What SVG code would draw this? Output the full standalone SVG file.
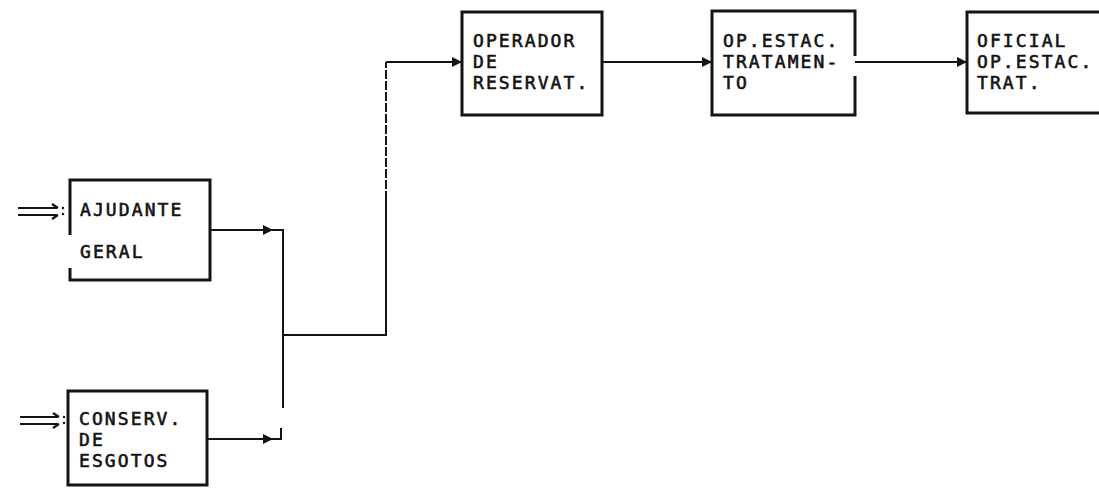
<svg xmlns="http://www.w3.org/2000/svg" width="1099" height="489" viewBox="0 0 1099 489">
<defs>
<style>
.box{fill:none;stroke:#141414;stroke-width:3}
.edge{fill:none;stroke:#141414;stroke-width:3}
.ln{fill:none;stroke:#141414;stroke-width:2}
.in{fill:none;stroke:#141414;stroke-width:2.2}
.t{font-family:"DejaVu Sans Mono","Liberation Mono",monospace;font-size:18px;letter-spacing:2.1px;fill:#141414;stroke:#141414;stroke-width:0.6}
</style>
<marker id="ah" viewBox="0 0 10 10" refX="10" refY="5" markerWidth="11" markerHeight="10" markerUnits="userSpaceOnUse" orient="auto">
<path d="M0,0 L10,5 L0,10 Z" fill="#141414"/>
</marker>
</defs>
<rect width="1099" height="489" fill="#fff"/>
<g id="connectors">
<path class="in" d="M18,208 H57 M18,215 H57 M52,204 L58,208 M52,219 L58,215"/>
<circle cx="63" cy="208" r="1.2" fill="#141414"/><circle cx="63" cy="214" r="1.2" fill="#141414"/>
<path class="in" d="M20,417 H58 M20,424 H58 M53,413 L59,417 M53,428 L59,424"/>
<circle cx="64" cy="417" r="1.2" fill="#141414"/><circle cx="64" cy="423" r="1.2" fill="#141414"/>
<path class="ln" d="M210,230 H273" marker-end="url(#ah)"/>
<path class="ln" d="M273,230 H283 V408"/>
<path class="ln" d="M207,439 H273" marker-end="url(#ah)"/>
<path class="ln" d="M273,439 H281 V428"/>
<path class="ln" d="M283,335 H386 V200"/>
<path class="ln" d="M386,200 V62" stroke-dasharray="9 2"/>
<path class="ln" d="M386,62 H462" marker-end="url(#ah)"/>
<path class="ln" d="M602,62 H712" marker-end="url(#ah)"/>
<path class="ln" d="M855,62 H967" marker-end="url(#ah)"/>
</g>
<g id="ajudante">
<path class="edge" d="M70,235 V180 H210 V280 H70 V268"/>
<text class="t" x="80" y="216">AJUDANTE</text>
<text class="t" x="80" y="258">GERAL</text>
</g>
<g id="conserv">
<rect class="box" x="68" y="391" width="139" height="94"/>
<text class="t" x="79" y="425">CONSERV.</text>
<text class="t" x="79" y="446">DE</text>
<text class="t" x="79" y="467">ESGOTOS</text>
</g>
<g id="operador">
<rect class="box" x="462" y="12" width="140" height="103"/>
<text class="t" x="473" y="47">OPERADOR</text>
<text class="t" x="473" y="68">DE</text>
<text class="t" x="473" y="89">RESERVAT.</text>
</g>
<g id="opestac">
<path class="edge" d="M855,56 V11 H712 V115 H855 V76"/>
<text class="t" x="723" y="47">OP.ESTAC.</text>
<text class="t" x="723" y="68">TRATAMEN-</text>
<text class="t" x="723" y="89">TO</text>
</g>
<g id="oficial">
<path class="edge" d="M1105,12 H967 V113 H1105"/>
<text class="t" x="977" y="47">OFICIAL</text>
<text class="t" x="977" y="68">OP.ESTAC.</text>
<text class="t" x="977" y="89">TRAT.</text>
</g>
</svg>
